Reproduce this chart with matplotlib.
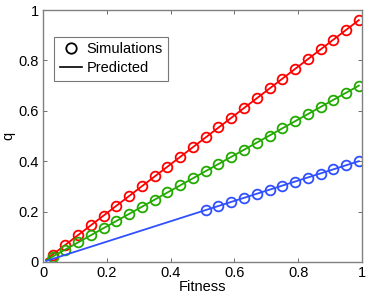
import matplotlib
matplotlib.use("Agg")
import matplotlib.pyplot as plt
from matplotlib.lines import Line2D

plt.rcParams['font.family'] = ['Liberation Sans', 'DejaVu Sans']

# Simulations
x_sim = [0.03, 0.07, 0.11, 0.15, 0.19, 0.23, 0.27, 0.31, 0.35, 0.39, 0.43, 0.47,
         0.51, 0.55, 0.59, 0.63, 0.67, 0.71, 0.75, 0.79, 0.83, 0.87, 0.91, 0.95, 0.99]
red_sim = [0.029, 0.068, 0.107, 0.146, 0.184, 0.223, 0.262, 0.301, 0.340, 0.378,
           0.417, 0.456, 0.495, 0.534, 0.573, 0.611, 0.650, 0.689, 0.728, 0.766,
           0.805, 0.844, 0.883, 0.922, 0.960]
green_sim = [0.021, 0.049, 0.078, 0.106, 0.134, 0.163, 0.191, 0.219, 0.247, 0.276,
             0.304, 0.332, 0.361, 0.389, 0.417, 0.445, 0.474, 0.502, 0.530, 0.559,
             0.587, 0.615, 0.643, 0.672, 0.700]
x_blue_sim = [0.51, 0.55, 0.59, 0.63, 0.67, 0.71, 0.75, 0.79, 0.83, 0.87, 0.91, 0.95, 0.99]
blue_sim = [0.206, 0.222, 0.238, 0.255, 0.271, 0.287, 0.303, 0.319, 0.335, 0.351,
            0.368, 0.384, 0.400]

# Predicted
x_pred = [0.01, 0.99]
red_pred = [0.0097, 0.960]
green_pred = [0.007, 0.700]
blue_pred = [0.004, 0.400]

xticks = [0, 0.2, 0.4, 0.6, 0.8, 1]
xticklabels = ['0', '0.2', '0.4', '0.6', '0.8', '1']
yticks = [0, 0.2, 0.4, 0.6, 0.8, 1]
yticklabels = ['0', '0.2', '0.4', '0.6', '0.8', '1']

RED = '#ff0000'
GREEN = '#22aa00'
BLUE = '#3050ff'

fig = plt.figure(figsize=(3.74, 2.96), dpi=100)
ax = fig.add_axes([0.115, 0.115, 0.853, 0.851])

lw = 1.3
ms = 7.0
for xs, ys, xp, yp, c in [(x_sim, red_sim, x_pred, red_pred, RED),
                          (x_sim, green_sim, x_pred, green_pred, GREEN),
                          (x_blue_sim, blue_sim, x_pred, blue_pred, BLUE)]:
    ax.plot(xp, yp, color=c, lw=lw)
    ax.plot(xs, ys, 'o', mfc='none', mec=c, mew=1.3, ms=ms)

ax.set_xlim(0, 1)
ax.set_ylim(0, 1)
ax.set_xticks(xticks)
ax.set_xticklabels(xticklabels)
ax.set_yticks(yticks)
ax.set_yticklabels(yticklabels)
ax.tick_params(direction='in', length=3, width=0.6, color='#555555',
               top=True, right=True, labelsize=10.5, pad=3)
for s in ax.spines.values():
    s.set_color('#808080')
    s.set_linewidth(1.0)
ax.set_xlabel('Fitness', fontsize=10.5, labelpad=0)
ax.set_ylabel('q', fontsize=10.5, labelpad=2)

handles = [Line2D([], [], ls='none', marker='o', mfc='none', mec='black', mew=1.3, ms=7.5),
           Line2D([], [], color='black', lw=1.2)]
leg = ax.legend(handles, ['Simulations', 'Predicted'], loc='upper left',
                bbox_to_anchor=(0.035, 0.895), fontsize=10.5, frameon=True,
                fancybox=False, edgecolor='#555555', handlelength=1.5,
                handletextpad=0.3, borderpad=0.4, labelspacing=0.35,
                borderaxespad=0)
leg.get_frame().set_linewidth(0.8)

fig.savefig('out.png', dpi=100)
